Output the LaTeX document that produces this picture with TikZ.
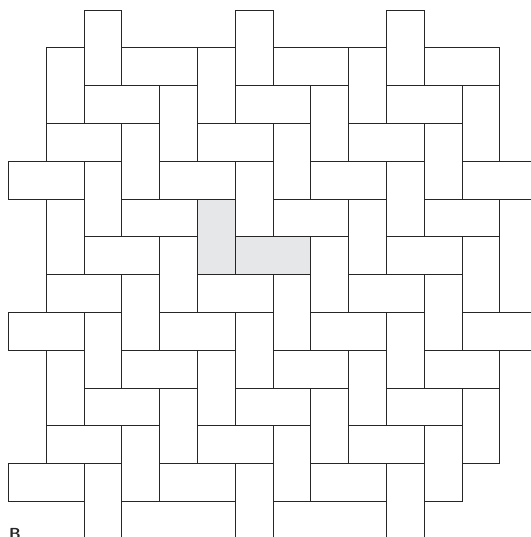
\documentclass[tikz,border=0pt]{standalone}
\usepackage{tikz}
\definecolor{tileline}{rgb}{0.15, 0.15, 0.15}
\definecolor{tilegray}{rgb}{0.90, 0.905, 0.91}

\begin{document}
\begin{tikzpicture}[x=37.8pt, y=-37.8pt,
    tile/.style={draw=tileline, line width=0.9pt, fill=white, line join=miter},
    marked/.style={tile, fill=tilegray}]
    \useasboundingbox (-0.225, -0.265) rectangle (13.823, 13.942);
    \clip (-0.225, -0.265) rectangle (13.823, 13.942);

    % upright tiles (column/row of the top left corner)
    \def\uprighttiles{2/0, 6/0, 10/0, 1/1, 5/1, 9/1, 4/2, 8/2, 12/2,
        3/3, 7/3, 11/3, 2/4, 6/4, 10/4, 1/5, 9/5, 4/6, 8/6, 12/6,
        3/7, 7/7, 11/7, 2/8, 6/8, 10/8, 1/9, 5/9, 9/9, 4/10, 8/10, 12/10,
        3/11, 7/11, 11/11, 2/12, 6/12, 10/12}
    % lying tiles
    \def\lyingtiles{3/1, 7/1, 11/1, 2/2, 6/2, 10/2, 1/3, 5/3, 9/3,
        0/4, 4/4, 8/4, 12/4, 3/5, 7/5, 11/5, 2/6, 10/6,
        1/7, 5/7, 9/7, 0/8, 4/8, 8/8, 12/8, 3/9, 7/9, 11/9,
        2/10, 6/10, 10/10, 1/11, 5/11, 9/11, 0/12, 4/12, 8/12}

    \foreach \c/\r in \uprighttiles {
        \draw[tile] (\c, \r) rectangle ++(1, 2);
    }
    \foreach \c/\r in \lyingtiles {
        \draw[tile] (\c, \r) rectangle ++(2, 1);
    }

    % the two shaded tiles
    \draw[marked] (5, 5) rectangle ++(1, 2);
    \draw[marked] (6, 6) rectangle ++(2, 1);

    \node(label-B)[anchor=base west, inner sep=0pt,
        font=\fontsize{16}{16}\selectfont\sffamily\bfseries, text=tileline]
        at (0.01, 14.0) {B};
\end{tikzpicture}
\end{document}
